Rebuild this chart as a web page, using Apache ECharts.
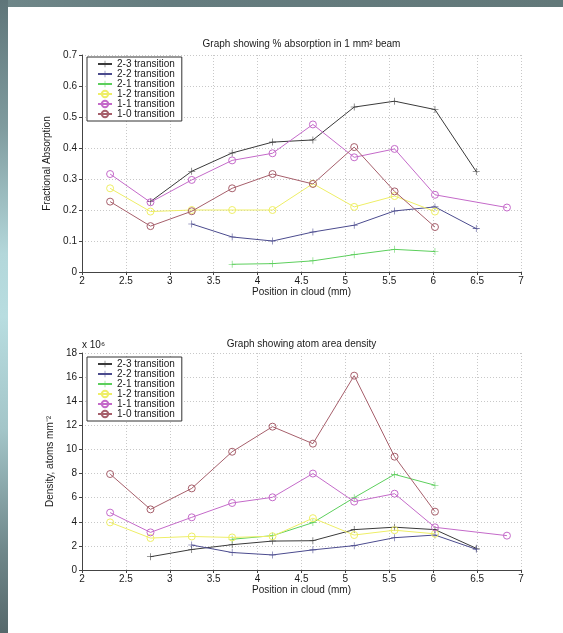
<!DOCTYPE html>
<html><head><meta charset="utf-8">
<script src="https://cdn.jsdelivr.net/npm/echarts@6/dist/echarts.min.js"></script>
<style>
html,body{margin:0;padding:0;background:#fff;}
#wrap{position:relative;width:563px;height:633px;overflow:hidden;background:#fff;}
#topbar{position:absolute;left:0;top:0;width:563px;height:7px;background:linear-gradient(to right,#6f8789,#657c7f 30%,#627879);}
#leftbar{position:absolute;left:0;top:0;width:8px;height:633px;background:linear-gradient(to bottom,#5f7579 0%,#7f9b9e 20%,#b3d7da 40%,#b8dde0 50%,#a3c5c8 68%,#6f878a 87%,#56686b 100%);}
#chart{position:absolute;left:0;top:0;width:563px;height:633px;}
</style></head>
<body><div id="wrap"><div id="topbar"></div><div id="leftbar"></div><div id="chart"></div></div>
<script>
// ---- data ----
const positions = [2.32, 2.78, 3.25, 3.71, 4.17, 4.63, 5.10, 5.56, 6.02, 6.49, 6.84];
const seriesNames = ['2-3 transition', '2-2 transition', '2-1 transition', '1-2 transition', '1-1 transition', '1-0 transition'];

// Fractional absorption (top chart)
const abs23 = [null, 0.227, 0.325, 0.384, 0.419, 0.426, 0.532, 0.551, 0.524, 0.324, null];
const abs22 = [null, null, 0.155, 0.113, 0.100, 0.129, 0.151, 0.197, 0.210, 0.140, null];
const abs21 = [null, null, null, 0.025, 0.027, 0.036, 0.056, 0.073, 0.066, null, null];
const abs12 = [0.270, 0.195, 0.200, 0.200, 0.200, 0.285, 0.210, 0.245, 0.195, null, null];
const abs11 = [0.316, 0.225, 0.297, 0.360, 0.383, 0.476, 0.370, 0.397, 0.249, null, 0.208];
const abs10 = [0.227, 0.148, 0.196, 0.270, 0.316, 0.284, 0.403, 0.260, 0.145, null, null];

// Atom area density, x 10^6 atoms mm^-2 (bottom chart)
const den23 = [null, 1.10, 1.70, 2.10, 2.40, 2.43, 3.35, 3.55, 3.35, 1.80, null];
const den22 = [null, null, 2.07, 1.45, 1.25, 1.67, 2.02, 2.68, 2.90, 1.72, null];
const den21 = [null, null, null, 2.55, 2.85, 3.93, 6.00, 7.93, 7.03, null, null];
const den12 = [3.95, 2.65, 2.78, 2.70, 2.80, 4.30, 2.90, 3.30, 3.00, null, null];
const den11 = [4.76, 3.12, 4.37, 5.56, 6.03, 8.00, 5.67, 6.33, 3.54, null, 2.85];
const den10 = [7.96, 5.03, 6.77, 9.81, 11.89, 10.48, 16.12, 9.40, 4.84, null, null];

// tick labels
const xTicks = ['2', '2.5', '3', '3.5', '4', '4.5', '5', '5.5', '6', '6.5', '7'];
const absTicks = ['0', '0.1', '0.2', '0.3', '0.4', '0.5', '0.6', '0.7'];
const denTicks = ['0', '2', '4', '6', '8', '10', '12', '14', '16', '18'];

// ---- styles ----
const PLUS = 'path://M4.6,0H5.4V4.6H10V5.4H5.4V10H4.6V5.4H0V4.6H4.6Z';
const styles = [
  {color: '#3a3a3a', symbol: PLUS},
  {color: '#4b4b8e', symbol: PLUS},
  {color: '#5ccf5c', symbol: PLUS},
  {color: '#eeee66', symbol: 'circle'},
  {color: '#c46ac9', symbol: 'circle'},
  {color: '#a65f6b', symbol: 'circle'}
];
const FONT = '"Liberation Sans", Arial, Helvetica, sans-serif';
const TXT = '#1a1a1a';

function pairs(vals) {
  return positions.map((x, i) => vals[i] == null ? null : [x, vals[i]]).filter(Boolean);
}
function makeSeries(arrs, idx) {
  return arrs.map((a, k) => {
    const st = styles[k];
    const isCircle = st.symbol === 'circle';
    return {
      name: seriesNames[k], type: 'line', xAxisIndex: idx, yAxisIndex: idx,
      data: pairs(a), symbol: st.symbol, symbolSize: 7, showSymbol: true,
      lineStyle: {color: st.color, width: 1},
      itemStyle: isCircle ? {color: 'rgba(0,0,0,0)', borderColor: st.color, borderWidth: 1}
                          : {color: st.color, borderWidth: 0},
      emphasis: {disabled: true}, animation: false, z: 3 + k
    };
  });
}
const num = s => parseFloat(s);
function xAxisCfg(idx) {
  return {
    type: 'value', gridIndex: idx, min: num(xTicks[0]), max: num(xTicks[xTicks.length - 1]),
    interval: num(xTicks[1]) - num(xTicks[0]),
    name: 'Position in cloud (mm)', nameLocation: 'middle', nameGap: 13,
    nameTextStyle: {fontSize: 10, color: TXT, fontFamily: FONT},
    axisLine: {show: true, onZero: false, lineStyle: {color: '#444', width: 1}},
    axisTick: {show: true, inside: false, length: 3, lineStyle: {color: '#444'}},
    axisLabel: {fontSize: 10, color: TXT, fontFamily: FONT, margin: 4,
      formatter: v => xTicks[Math.round((v - num(xTicks[0])) / (num(xTicks[1]) - num(xTicks[0])))]},
    splitLine: {show: true, lineStyle: {color: '#c8c8c8', type: [1, 2], width: 1}}
  };
}
function yAxisCfg(idx, ticks, name, gap) {
  const step = num(ticks[1]) - num(ticks[0]);
  return {
    type: 'value', gridIndex: idx, min: num(ticks[0]), max: num(ticks[ticks.length - 1]), interval: step,
    name: name, nameLocation: 'middle', nameRotate: 90, nameGap: gap,
    nameTextStyle: {fontSize: 10, color: TXT, fontFamily: FONT},
    axisLine: {show: true, onZero: false, lineStyle: {color: '#444', width: 1}},
    axisTick: {show: true, inside: false, length: 3, lineStyle: {color: '#444'}},
    axisLabel: {fontSize: 10, color: TXT, fontFamily: FONT, margin: 5,
      formatter: v => ticks[Math.round((v - num(ticks[0])) / step)]},
    splitLine: {show: true, lineStyle: {color: '#c8c8c8', type: [1, 2], width: 1}}
  };
}
function legendCfg(top) {
  return {
    left: 87, top: top, orient: 'vertical', itemWidth: 14, itemHeight: 8, itemGap: 0,
    padding: [2, 7, 2, 10], borderColor: '#333', borderWidth: 1, backgroundColor: '#fff',
    borderRadius: 0, selectedMode: false, data: seriesNames,
    textStyle: {fontSize: 10, color: TXT, fontFamily: FONT, lineHeight: 10}
  };
}

const chart = echarts.init(document.getElementById('chart'), null, {renderer: 'canvas'});
chart.setOption({
  animation: false,
  backgroundColor: 'transparent',
  textStyle: {fontFamily: FONT},
  title: [
    {text: 'Graph showing % absorption in 1 mm\u00B2 beam', left: 301.5, textAlign: 'center', top: 39,
     padding: 0, textStyle: {fontSize: 10, fontWeight: 'normal', color: TXT, fontFamily: FONT}},
    {text: 'Graph showing atom area density', left: 301.5, textAlign: 'center', top: 339,
     padding: 0, textStyle: {fontSize: 10, fontWeight: 'normal', color: TXT, fontFamily: FONT}}
  ],
  grid: [
    {left: 82, top: 55, width: 439, height: 217, containLabel: false},
    {left: 82, top: 353, width: 439, height: 217, containLabel: false}
  ],
  xAxis: [xAxisCfg(0), xAxisCfg(1)],
  yAxis: [yAxisCfg(0, absTicks, 'Fractional Absorption', 20), yAxisCfg(1, denTicks, 'Density, atoms mm\u207B\u00B2', 18)],
  legend: [legendCfg(57), legendCfg(357)],
  graphic: [
    {type: 'text', left: 82, top: 340, style: {text: 'x 10\u2076', fontSize: 10, fill: TXT, fontFamily: FONT}}
  ],
  series: makeSeries([abs23, abs22, abs21, abs12, abs11, abs10], 0)
    .concat(makeSeries([den23, den22, den21, den12, den11, den10], 1))
});
</script>
</body></html>
